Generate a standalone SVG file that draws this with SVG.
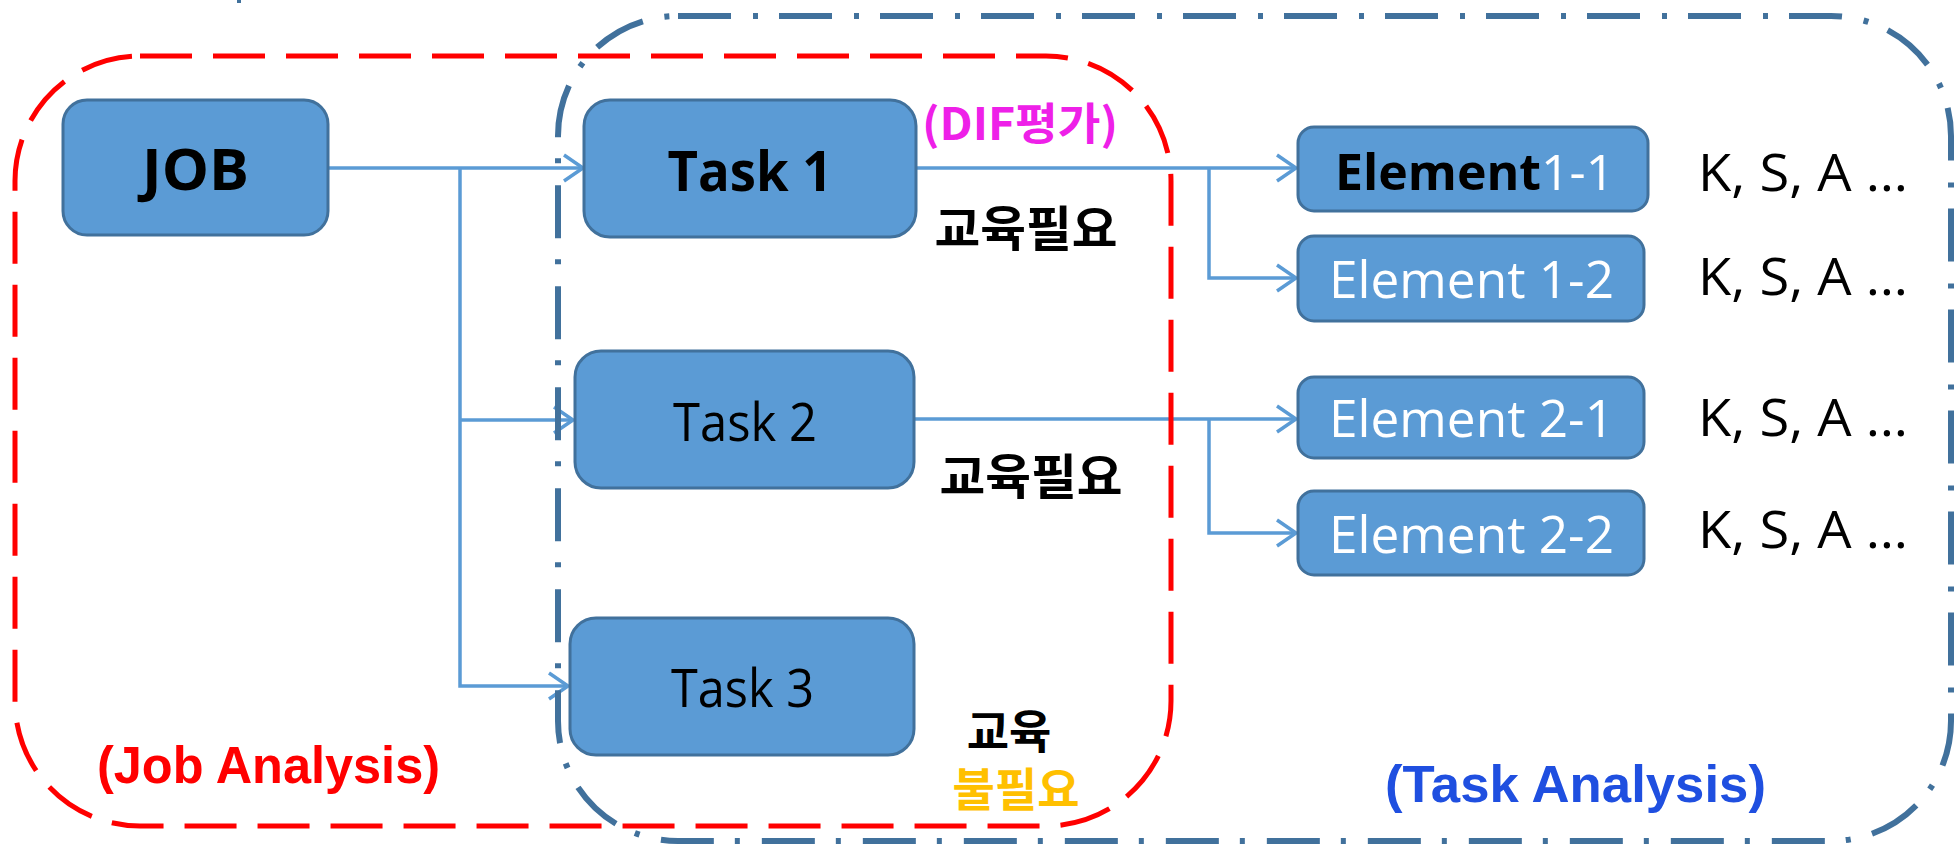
<svg xmlns="http://www.w3.org/2000/svg" width="1955" height="847" viewBox="0 0 1955 847">
<style>
.node{fill:#5B9BD5;stroke:#41719C;stroke-width:3}
.conn{fill:none;stroke:#5B9BD5;stroke-width:3.5}
.lat{font-family:"Open Sans","Noto Sans","Noto Sans CJK KR",sans-serif}
.kr{font-family:"Noto Sans CJK KR","Noto Sans",sans-serif;font-weight:700}
.head{font-family:"Liberation Sans","Noto Sans CJK KR",sans-serif;font-weight:700}
</style>
<defs>
<marker id="arr" markerUnits="userSpaceOnUse" markerWidth="26" markerHeight="32" viewBox="0 0 26 32" refX="22" refY="16" orient="auto">
<path d="M3,3 L22,16 L3,29" fill="none" stroke="#5B9BD5" stroke-width="3.5"/>
</marker>
</defs>
<rect x="237" y="0" width="4" height="3" fill="#41719C"/>
<g id="connectors">
<path class="conn" d="M328,168 H583" marker-end="url(#arr)"/>
<path class="conn" d="M460,168 V686 H568" marker-end="url(#arr)"/>
<path class="conn" d="M460,420 H573" marker-end="url(#arr)"/>
<path class="conn" d="M916,168 H1296" marker-end="url(#arr)"/>
<path class="conn" d="M1209,168 V278 H1296" marker-end="url(#arr)"/>
<path class="conn" d="M914,419 H1296" marker-end="url(#arr)"/>
<path class="conn" d="M1209,419 V533 H1296" marker-end="url(#arr)"/>
</g>
<g id="job-analysis-frame">
<rect x="15" y="56" width="1156" height="770" rx="125" ry="125" fill="none" stroke="#FF0000" stroke-width="5" stroke-dasharray="52 21"/>
</g>
<g id="task-analysis-frame">
<rect x="558" y="16" width="1393" height="825" rx="120" ry="120" fill="none" stroke="#41719C" stroke-width="6" stroke-dasharray="53 22 5 21"/>
</g>
<g id="job">
<rect class="node" x="63" y="100" width="265" height="135" rx="24"/>
<text class="lat" x="195.5" y="190" font-size="58" font-weight="700" text-anchor="middle" textLength="107" lengthAdjust="spacingAndGlyphs">JOB</text>
</g>
<g id="task1">
<rect class="node" x="584" y="100" width="332" height="137" rx="26"/>
<text class="lat" x="750" y="191" font-size="55" font-weight="700" text-anchor="middle" textLength="165" lengthAdjust="spacingAndGlyphs">Task 1</text>
</g>
<g id="task2">
<rect class="node" x="575" y="351" width="339" height="137" rx="26"/>
<text class="lat" x="745" y="441" font-size="53" text-anchor="middle" textLength="144" lengthAdjust="spacingAndGlyphs">Task 2</text>
</g>
<g id="task3">
<rect class="node" x="570" y="618" width="344" height="137" rx="26"/>
<text class="lat" x="742.5" y="707" font-size="53" text-anchor="middle" textLength="143" lengthAdjust="spacingAndGlyphs">Task 3</text>
</g>
<g id="element1-1">
<rect class="node" x="1298" y="127" width="350" height="84" rx="16"/>
<text class="lat" x="1335" y="190" font-size="50"><tspan font-weight="700" fill="#000">Element</tspan><tspan fill="#FFFFFF">1-1</tspan></text>
</g>
<g id="element1-2">
<rect class="node" x="1298" y="236" width="346" height="85" rx="16"/>
<text class="lat" x="1471.5" y="298" font-size="52" fill="#FFFFFF" text-anchor="middle" textLength="285" lengthAdjust="spacingAndGlyphs">Element 1-2</text>
</g>
<g id="element2-1">
<rect class="node" x="1298" y="377" width="346" height="81" rx="16"/>
<text class="lat" x="1471.5" y="437" font-size="52" fill="#FFFFFF" text-anchor="middle" textLength="285" lengthAdjust="spacingAndGlyphs">Element 2-1</text>
</g>
<g id="element2-2">
<rect class="node" x="1298" y="491" width="346" height="84" rx="16"/>
<text class="lat" x="1471.5" y="553" font-size="52" fill="#FFFFFF" text-anchor="middle" textLength="285" lengthAdjust="spacingAndGlyphs">Element 2-2</text>
</g>
<g id="labels">
<text class="lat" x="1698" y="191" font-size="52" textLength="210" lengthAdjust="spacingAndGlyphs">K, S, A …</text>
<text class="lat" x="1698" y="295" font-size="52" textLength="210" lengthAdjust="spacingAndGlyphs">K, S, A …</text>
<text class="lat" x="1698" y="436" font-size="52" textLength="210" lengthAdjust="spacingAndGlyphs">K, S, A …</text>
<text class="lat" x="1698" y="548" font-size="52" textLength="210" lengthAdjust="spacingAndGlyphs">K, S, A …</text>
<text class="kr" x="1020" y="140" font-size="44" fill="#EE20E8" text-anchor="middle" textLength="196" lengthAdjust="spacingAndGlyphs">(DIF평가)</text>
<text class="kr" x="1026" y="246" font-size="48" fill="#000" text-anchor="middle" textLength="183" lengthAdjust="spacingAndGlyphs">교육필요</text>
<text class="kr" x="1031" y="494" font-size="48" fill="#000" text-anchor="middle" textLength="183" lengthAdjust="spacingAndGlyphs">교육필요</text>
<text class="kr" font-size="46" text-anchor="middle"><tspan x="1009" y="748" fill="#000">교육</tspan><tspan x="1016" y="806" fill="#FFC000">불필요</tspan></text>
<text class="head" x="268.5" y="783" font-size="52" fill="#FF0000" text-anchor="middle" textLength="343" lengthAdjust="spacingAndGlyphs">(Job Analysis)</text>
<text class="head" x="1575.5" y="802" font-size="52" fill="#1F4FE0" text-anchor="middle" textLength="381" lengthAdjust="spacingAndGlyphs">(Task Analysis)</text>
</g>
</svg>
